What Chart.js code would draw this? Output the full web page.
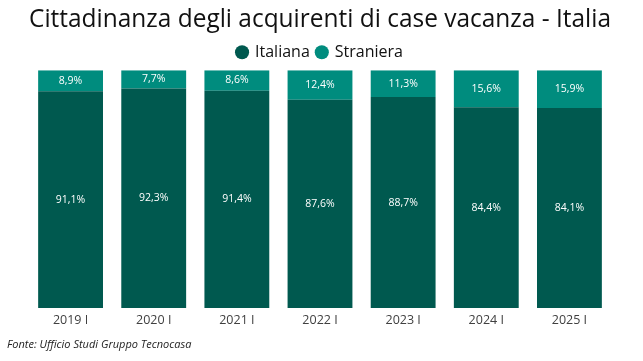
<!DOCTYPE html>
<html><head><meta charset="utf-8">
<script src="https://cdn.jsdelivr.net/npm/chart.js@4"></script>
<style>
html,body{margin:0;padding:0;background:#fff;}
#wrap{position:relative;width:643px;height:361px;}
#src{position:absolute;left:7px;top:336px;font:italic 11px "Open Sans",sans-serif;color:#222;}
</style></head><body>
<div id="wrap"><canvas id="c" width="643" height="361"></canvas>
<div id="src">Fonte: Ufficio Studi Gruppo Tecnocasa</div></div>
<script>
const categories = ["2019 I","2020 I","2021 I","2022 I","2023 I","2024 I","2025 I"];
const italiana = [91.1,92.3,91.4,87.6,88.7,84.4,84.1];
const straniera = [8.9,7.7,8.6,12.4,11.3,15.6,15.9];

const labelPlugin = {
  id:'segLabels',
  afterDatasetsDraw(chart){
    const ctx = chart.ctx;
    ctx.save();
    ctx.fillStyle = '#fff';
    ctx.font = '500 10.5px "Open Sans", sans-serif';
    ctx.textAlign = 'center';
    ctx.textBaseline = 'middle';
    chart.data.datasets.forEach((ds,i)=>{
      chart.getDatasetMeta(i).data.forEach((bar,j)=>{
        const y = (bar.y + bar.base)/2;
        ctx.fillText(ds.data[j].toFixed(1).replace('.',',')+'%', bar.x, y);
      });
    });
    ctx.restore();
  }
};

new Chart(document.getElementById('c'),{
  type:'bar',
  data:{labels:categories,datasets:[
    {label:'Italiana',data:italiana,backgroundColor:'#00594f',borderWidth:0},
    {label:'Straniera',data:straniera,backgroundColor:'#008c7e',borderWidth:0}
  ]},
  options:{
    responsive:false,animation:false,
    layout:{padding:{left:29,right:32,top:2,bottom:36}},
    datasets:{bar:{categoryPercentage:1,barPercentage:0.78}},
    scales:{
      x:{stacked:true,grid:{display:false},border:{display:false},ticks:{color:'#404040',font:{size:12.5,family:'"Open Sans", sans-serif'},padding:-3}},
      y:{stacked:true,display:false,min:0,max:100}
    },
    plugins:{
      title:{display:true,text:'Cittadinanza degli acquirenti di case vacanza - Italia',color:'#111',font:{size:26,weight:'normal',family:'"Open Sans", sans-serif'},padding:{top:2,bottom:2}},
      legend:{display:true,labels:{usePointStyle:true,pointStyle:'circle',boxWidth:10,boxHeight:10,padding:7,color:'#111',font:{size:16,family:'"Open Sans", sans-serif'}}},
      tooltip:{enabled:false}
    }
  },
  plugins:[labelPlugin]
});
</script></body></html>
